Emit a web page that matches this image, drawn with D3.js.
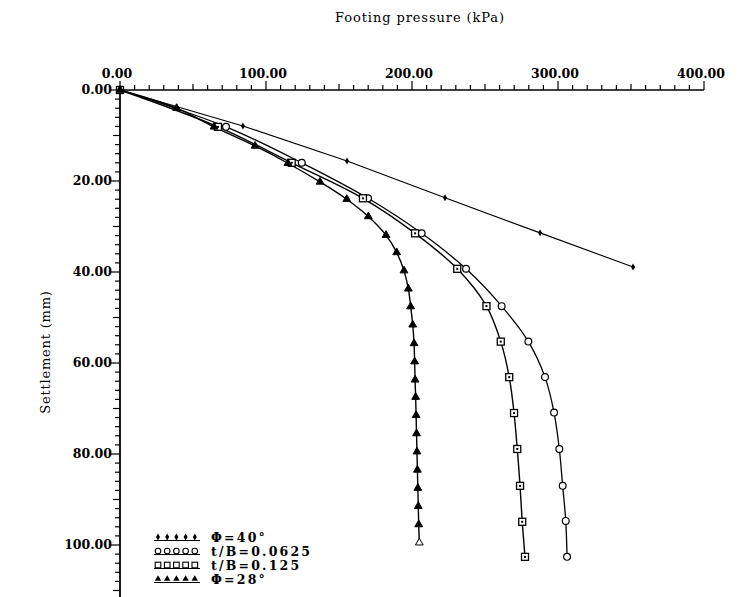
<!DOCTYPE html>
<html><head><meta charset="utf-8">
<script src="https://cdn.jsdelivr.net/npm/d3@7"></script>
<style>
body{margin:0;background:#fff;}
svg{display:block;}
text{font-family:"DejaVu Serif",serif;fill:#000;}
</style></head>
<body>
<script>
// Data (pressure kPa, settlement mm)
const phi40P = [0, 84.2, 155.5, 222.6, 287.7, 351.4];
const phi40S = [0, 7.9, 15.6, 23.7, 31.4, 38.9];

const tb0625P = [0, 72.6, 124.5, 169.9, 206.6, 237.0, 261.4, 279.7, 291.1, 297.3, 300.9, 303.2, 305.3, 306.2];
const tb0625S = [0, 8.1, 16.0, 23.8, 31.5, 39.3, 47.5, 55.3, 63.1, 70.9, 78.9, 87.0, 94.7, 102.6];

const tb125P = [0, 67.1, 117.6, 166.4, 202.1, 231.0, 251.0, 260.8, 266.6, 269.9, 272.1, 274.0, 275.5, 277.4];
const tb125S = [0, 8.1, 16.0, 23.8, 31.5, 39.3, 47.5, 55.3, 63.1, 71.0, 78.9, 87.0, 94.9, 102.6];

const phi28P = [0, 38.8, 64.4, 92.5, 115.0, 137.0, 155.3, 170.1, 182.2, 189.5, 194.5, 197.5, 199.1, 200.5, 201.4, 201.8, 202.1, 202.5, 202.8, 203.1, 203.4, 203.7, 204.0, 204.3, 204.6, 205.0];
const phi28S = [0, 4.0, 8.1, 12.3, 16.1, 20.2, 24.0, 27.8, 31.9, 35.7, 39.7, 43.7, 47.6, 51.6, 55.7, 59.7, 63.7, 67.5, 71.5, 75.5, 79.5, 83.5, 87.5, 91.5, 95.5, 99.5];

const seriesNames = ["\u03A6=40\u00B0", "t/B=0.0625", "t/B=0.125", "\u03A6=28\u00B0"];
const xMajorTicks = [0, 100, 200, 300, 400];
const yMajorTicks = [0, 20, 40, 60, 80, 100];
const xTitle = "Footing pressure (kPa)";
const yTitle = "Settlement (mm)";

const W = 738, H = 597;
const svg = d3.select("body").append("svg").attr("width", W).attr("height", H);

const x = d3.scaleLinear().domain([0, 400]).range([120, 704]);
const y = d3.scaleLinear().domain([0, 100]).range([90, 545]);

// Top axis
const gx = svg.append("g").attr("transform", `translate(0,${y(0)})`);
gx.append("line").attr("x1", x(0)).attr("x2", x(400)).attr("y1", 0).attr("y2", 0)
  .attr("stroke", "#000").attr("stroke-width", 1.6);
d3.range(0, 401, 10).forEach(v => {
  const major = v % 100 === 0;
  const mid = v % 50 === 0;
  gx.append("line").attr("x1", x(v)).attr("x2", x(v)).attr("y1", 0)
    .attr("y2", major ? -9 : (mid ? -6 : -5)).attr("stroke", "#000").attr("stroke-width", 1.2);
});
xMajorTicks.forEach(v => {
  gx.append("text").attr("x", x(v) - 3).attr("y", -12).attr("text-anchor", "middle")
    .attr("font-size", 12.5).attr("font-weight", "bold").text(d3.format(".2f")(v));
});

// Left axis
const gy = svg.append("g").attr("transform", `translate(${x(0)},0)`);
gy.append("line").attr("x1", 0).attr("x2", 0).attr("y1", y(0) - 2).attr("y2", H)
  .attr("stroke", "#000").attr("stroke-width", 1.8);
d3.range(0, 112, 2).forEach(v => {
  const major = v % 20 === 0;
  const mid = v % 10 === 0;
  gy.append("line").attr("x1", 0).attr("x2", major ? -9 : (mid ? -7 : -5))
    .attr("y1", y(v)).attr("y2", y(v)).attr("stroke", "#000").attr("stroke-width", 1.2);
});
yMajorTicks.forEach(v => {
  gy.append("text").attr("x", -8).attr("y", y(v)).attr("dy", "0.35em").attr("text-anchor", "end")
    .attr("font-size", 12.5).attr("font-weight", "bold").text(d3.format(".2f")(v));
});

// Titles
svg.append("text").attr("x", 420).attr("y", 22).attr("text-anchor", "middle")
  .attr("font-size", 13).attr("letter-spacing", 0.9).text(xTitle);
svg.append("text").attr("transform", "translate(50,352) rotate(-90)").attr("text-anchor", "middle")
  .attr("font-size", 13).attr("letter-spacing", 0.8).text(yTitle);

const zip = (P, S) => P.map((p, i) => ({p, s: S[i]}));
const lineLin = d3.line().x(d => x(d.p)).y(d => y(d.s));
const lineSmooth = d3.line().x(d => x(d.p)).y(d => y(d.s)).curve(d3.curveCatmullRom.alpha(0.5));

const d40 = zip(phi40P, phi40S);
const d0625 = zip(tb0625P, tb0625S);
const d125 = zip(tb125P, tb125S);
const d28 = zip(phi28P, phi28S);

svg.append("path").attr("d", lineLin(d40)).attr("fill", "none").attr("stroke", "#000").attr("stroke-width", 1.1);
svg.append("path").attr("d", lineSmooth(d0625)).attr("fill", "none").attr("stroke", "#000").attr("stroke-width", 1.3);
svg.append("path").attr("d", lineSmooth(d125)).attr("fill", "none").attr("stroke", "#000").attr("stroke-width", 1.4);
svg.append("path").attr("d", lineSmooth(d28)).attr("fill", "none").attr("stroke", "#000").attr("stroke-width", 1.4);

// marker drawers
function diamond(g, cx, cy) {
  g.append("path").attr("d", d3.symbol(d3.symbolDiamond, 14)()).attr("transform", `translate(${cx},${cy})`).attr("fill", "#000");
}
function circ(g, cx, cy) {
  g.append("circle").attr("cx", cx).attr("cy", cy).attr("r", 3.4).attr("fill", "#fff").attr("stroke", "#000").attr("stroke-width", 1.2);
}
function sq(g, cx, cy) {
  g.append("rect").attr("x", cx - 3.5).attr("y", cy - 3.5).attr("width", 7).attr("height", 7).attr("fill", "#fff").attr("stroke", "#000").attr("stroke-width", 1.3);
  g.append("rect").attr("x", cx - 1).attr("y", cy - 1).attr("width", 2).attr("height", 2).attr("fill", "#000");
}
function tri(g, cx, cy, hollow) {
  g.append("path").attr("d", d3.symbol(d3.symbolTriangle, 26)()).attr("transform", `translate(${cx},${cy})`)
    .attr("fill", hollow ? "#fff" : "#000").attr("stroke", "#000").attr("stroke-width", 1);
}
function smallCirc(g, cx, cy) {
  g.append("circle").attr("cx", cx).attr("cy", cy).attr("r", 2.8).attr("fill", "#fff").attr("stroke", "#000").attr("stroke-width", 1.1);
}
function smallSq(g, cx, cy) {
  g.append("rect").attr("x", cx - 2.8).attr("y", cy - 2.8).attr("width", 5.6).attr("height", 5.6).attr("fill", "#fff").attr("stroke", "#000").attr("stroke-width", 1.1);
}
function smallTri(g, cx, cy) {
  g.append("path").attr("d", d3.symbol(d3.symbolTriangle, 18)()).attr("transform", `translate(${cx},${cy})`).attr("fill", "#000");
}

const gm = svg.append("g");
d40.forEach(d => diamond(gm, x(d.p), y(d.s)));
d0625.forEach(d => circ(gm, x(d.p), y(d.s)));
d125.forEach(d => sq(gm, x(d.p), y(d.s)));
d28.forEach((d, i) => tri(gm, x(d.p), y(d.s), i === d28.length - 1));

// Legend
const lg = svg.append("g");
const rowsY = [537, 551, 565, 579];
const drawers = [diamond, smallCirc, smallSq, smallTri];
rowsY.forEach((ry, i) => {
  lg.append("line").attr("x1", 154).attr("x2", 200).attr("y1", ry + 3.5).attr("y2", ry + 3.5)
    .attr("stroke", "#000").attr("stroke-width", 1.2);
  for (let k = 0; k < 5; k++) drawers[i](lg, 158 + k * 9.2, ry);
  lg.append("text").attr("x", 211).attr("y", ry).attr("dy", "0.36em")
    .attr("font-size", 12.5).attr("font-weight", "bold").attr("letter-spacing", 2.2).text(seriesNames[i]);
});
</script>
</body></html>
